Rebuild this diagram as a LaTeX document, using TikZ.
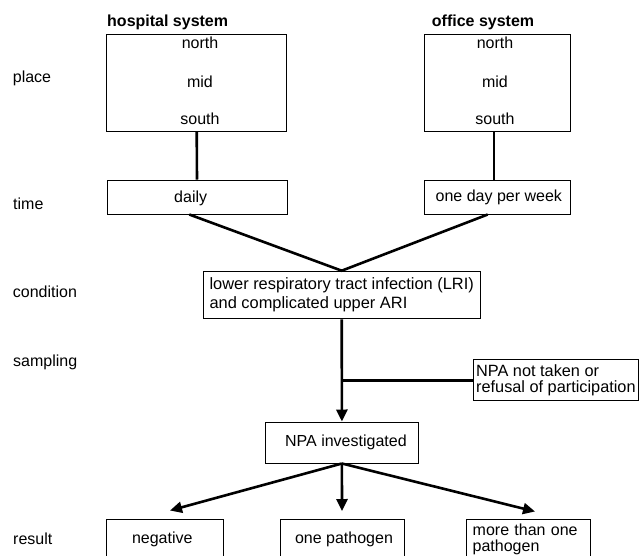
\documentclass[tikz,border=0pt]{standalone}
\usepackage{fontspec}
\setmainfont{Liberation Sans}
\usetikzlibrary{arrows.meta,calc}
\begin{document}
\begin{tikzpicture}[x=1pt,y=-1pt,
  font=\fontsize{16}{19.5}\selectfont,
  box/.style={draw,line width=1pt,inner sep=0pt},
  txt/.style={inner sep=0pt,text height=11.5pt,text depth=3.5pt},
  lab/.style={txt,anchor=west},
  conn/.style={line width=2.6pt},
  arr/.style={conn,-{Triangle[length=12pt,width=11pt]}}]
\useasboundingbox (0,0) rectangle (640,555);
\clip (0,0) rectangle (640,555);

% row labels
\node[lab] (lplace) at (12.7,78) {place};
\node[lab] (ltime) at (13,205) {time};
\node[lab] (lcond) at (12.7,293.5) {condition};
\node[lab] (lsamp) at (13,362) {sampling};
\node[lab] (lres) at (13,540.5) {result};

% headers
\node[lab,font=\fontsize{16}{19.5}\selectfont\bfseries] (hhosp) at (107,22) {hospital system};
\node[lab,font=\fontsize{16}{19.5}\selectfont\bfseries] (hoff) at (431.7,22) {office system};

% place boxes
\node[box,minimum width=180pt,minimum height=96.7pt] (hosp) at (196.7,82.7) {};
\node[txt] (hn) at (200,44.5) {north};
\node[txt] (hm) at (200,83.5) {mid};
\node[txt] (hs) at (200,120.8) {south};

\node[box,minimum width=145.7pt,minimum height=96.7pt] (off) at (497.8,82.7) {};
\node[txt] (on) at (495,44.5) {north};
\node[txt] (om) at (495,83.5) {mid};
\node[txt] (os) at (495,120.8) {south};

% time boxes
\node[box,minimum width=180pt,minimum height=34pt] (daily) at (197,197) {};
\node[txt] (dailytxt) at (190.7,198.3) {daily};
\node[box,txt,minimum width=145.7pt,minimum height=34pt] (week) at (497.8,197) {\hspace*{2pt}one day per week};

% condition
\node[box,minimum width=276.7pt,minimum height=47.6pt,align=left,
  font=\fontsize{16.4}{19.3}\selectfont] (cond) at (341.7,295)
  {lower respiratory tract infection (LRI)\\and complicated upper ARI};

% refusal
\node[box,minimum width=165.2pt,minimum height=41pt,align=left,
  font=\fontsize{16.3}{16.5}\selectfont] (refuse) at (555.9,380.2)
  {NPA not taken or\\refusal of participation};

% NPA investigated
\node[box,txt,minimum width=152.3pt,minimum height=41pt] (npa) at (341.9,442.5) {\hspace*{8pt}NPA investigated};

% results
\node[box,txt,anchor=north,minimum width=117.3pt,minimum height=40pt] (neg) at (165.3,518.7) {negative\hspace*{6pt}};
\node[box,txt,anchor=north,minimum width=124pt,minimum height=40pt] (one) at (342,518.7) {\hspace*{4pt}one pathogen};
\node[box,anchor=north,minimum width=124pt,minimum height=40pt,text width=112pt,align=left,inner xsep=6pt,
  font=\fontsize{16}{16}\selectfont] (more) at (528.7,518.7) {more than one\\pathogen};

% connectors
\draw[conn] (hosp.south) -- (daily.north);
\draw[conn] ($(off.south)+(-3.8,0)$) -- ($(week.north)+(-3.8,0)$);
\draw[conn] ($(daily.south)+(-7.7,0)$) -- (cond.north) -- ($(week.south)+(-10.1,0)$);
\draw[arr] (cond.south) -- (npa.north);
\draw[conn] (refuse.west) -- (refuse.west -| cond.south);

\coordinate (tneg) at (170,510.5);
\coordinate (tone) at (342,511);
\coordinate (tmore) at (535,511.5);
\draw[arr] (npa.south) -- (tneg);
\draw[arr] (npa.south) -- (tone);
\draw[arr] (npa.south) -- (tmore);
\end{tikzpicture}
\end{document}
